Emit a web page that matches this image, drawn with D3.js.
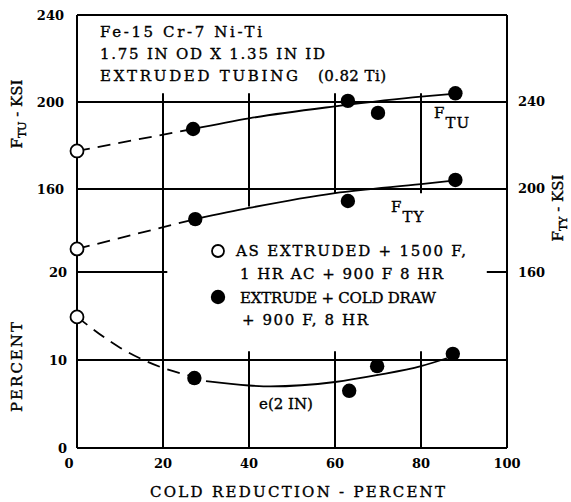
<!DOCTYPE html>
<meta charset="utf-8">
<style>
body { margin: 0; background: #fff; }
svg { font-family: "DejaVu Serif", serif; }
.grid { stroke: #000; stroke-width: 2px; fill: none; }
.curve { fill: none; stroke: #000; stroke-width: 1.8px; }
.dash { stroke-dasharray: 13,8; }
.tick { font-size: 13px; font-weight: bold; }
.lbl { font-size: 15px; stroke: #000; stroke-width: 0.35px; }
.open { fill: #fff; stroke: #000; stroke-width: 1.8px; }
.filled { fill: #000; }
</style>
<svg width="571" height="502"></svg>
<script src="https://d3js.org/d3.v7.min.js"></script>
<script>
// tick labels
var xTicks = [0, 20, 40, 60, 80, 100],
    ftuTicks = [160, 200, 240],
    ftyTicks = [160, 200, 240],
    pctTicks = [0, 10, 20];

// as extruded + 1500 F (open points, 0 % cold reduction)
var openCR = [0],
    openFTU = [177.5],
    openFTY = [171],
    openElong = [14.9];

// extrude + cold draw (filled points)
var ftuCR = [27, 63, 70, 88],
    ftuVal = [187.6, 200.5, 195, 204];
var ftyCR = [27.5, 63, 88],
    ftyVal = [185.2, 193.8, 203.7];
var elongCR = [27.3, 63.3, 69.8, 87.4],
    elongVal = [7.95, 6.5, 9.3, 10.7];

// faired curves (dashed part, then solid part)
var ftuDashCR = [0, 27], ftuDash = [177.5, 187.6];
var ftuLineCR = [27, 40, 60, 80, 88], ftuLine = [187.6, 192.5, 198, 202.5, 203.8];
var ftyDashCR = [0, 27.5], ftyDash = [171, 185.2];
var ftyLineCR = [27.5, 40, 60, 80, 88], ftyLine = [185.2, 190.5, 197.6, 201.8, 203.5];
var elDashCR = [0, 10, 20, 27.3], elDash = [14.9, 11.4, 9.1, 8.1];
var elLineCR = [30, 40, 45, 60, 70, 80, 86], elLine = [7.6, 7.1, 7.0, 7.5, 8.3, 9.3, 10.2];

var titleLines = ["Fe-15 Cr-7 Ni-Ti", "1.75 IN OD X 1.35 IN ID", "EXTRUDED TUBING"];
var legendLines = ["AS EXTRUDED + 1500 F,", "1 HR AC + 900 F 8 HR", "EXTRUDE + COLD DRAW", "+ 900 F, 8 HR"];

var svg = d3.select("svg");
var x = d3.scaleLinear().domain([0, 100]).range([77, 507]),
    yU = d3.scaleLinear().domain([160, 240]).range([189, 15]),
    yY = d3.scaleLinear().domain([160, 200, 240]).range([272, 188, 101]),
    yP = d3.scaleLinear().domain([0, 20]).range([448, 272]);

var g = svg.append("g");

// frame and grid
function hline(sc, v, a, b) {
  g.append("line").attr("class", "grid")
    .attr("x1", x(a)).attr("x2", x(b)).attr("y1", sc(v)).attr("y2", sc(v));
}
function vline(v, y1, y2) {
  g.append("line").attr("class", "grid")
    .attr("x1", x(v)).attr("x2", x(v)).attr("y1", y1).attr("y2", y2);
}
hline(yU, 240, 0, 100);
hline(yU, 200, 0, 100);
hline(yU, 160, 0, 100);
hline(yP, 20, 0, 21);
hline(yP, 10, 0, 100);
hline(yP, 0, 0, 100);
hline(yY, 160, 95.3, 100);
vline(0, yU(240), yP(0));
vline(100, yU(240), yP(0));
vline(20, yU(204), yP(0));
vline(40, yU(204), yU(152));
[60, 80].forEach(function(v) { vline(v, yU(204), yU(158)); });
[40, 60, 80].forEach(function(v) { vline(v, yP(11), yP(0)); });

// tick labels
g.selectAll(".xt").data(xTicks).enter().append("text")
    .attr("class", "tick").attr("text-anchor", "middle")
    .attr("x", function(d) { return x(d) - (d === 0 ? 8 : 0); }).attr("y", 468)
    .text(function(d) { return d; });
g.selectAll(".yu").data(ftuTicks).enter().append("text")
    .attr("class", "tick").attr("text-anchor", "end")
    .attr("x", 64).attr("y", function(d) { return yU(d) + 5; })
    .text(function(d) { return d; });
g.selectAll(".yp").data(pctTicks).enter().append("text")
    .attr("class", "tick").attr("text-anchor", "end")
    .attr("x", 67).attr("y", function(d) { return yP(d) + 5; })
    .text(function(d) { return d; });
g.selectAll(".yy").data(ftyTicks).enter().append("text")
    .attr("class", "tick").attr("text-anchor", "start")
    .attr("x", 518).attr("y", function(d) { return yY(d) + 5; })
    .text(function(d) { return d; });

// axis titles
function subTitle(tx, ty, main, sub, rest) {
  var t = g.append("text").attr("class", "lbl").attr("text-anchor", "middle")
    .attr("font-size", "14px")
    .attr("transform", "translate(" + tx + "," + ty + ") rotate(-90)");
  t.append("tspan").text(main);
  t.append("tspan").attr("font-size", "11px").attr("dy", 4).text(sub);
  t.append("tspan").attr("dy", -4).text(rest);
}
subTitle(22, 114, "F", "TU", " - KSI");
subTitle(563, 208, "F", "TY", " - KSI");
g.append("text").attr("class", "lbl").attr("text-anchor", "middle")
  .attr("transform", "translate(22,367) rotate(-90)")
  .attr("textLength", 90).attr("lengthAdjust", "spacing").text("PERCENT");
g.append("text").attr("class", "lbl").attr("x", 150).attr("y", 497)
  .attr("textLength", 295).attr("lengthAdjust", "spacing")
  .text("COLD REDUCTION - PERCENT");

// title block
g.selectAll(".ttl").data(titleLines).enter().append("text")
    .attr("class", "lbl").attr("x", 100)
    .attr("y", function(d, i) { return 37 + i * 22; })
    .attr("textLength", function(d, i) { return [162, 225, 198][i]; })
    .attr("lengthAdjust", "spacing")
    .text(function(d) { return d; });
g.append("text").attr("class", "lbl").attr("x", 318).attr("y", 81)
  .attr("textLength", 68).attr("lengthAdjust", "spacing").text("(0.82 Ti)");

// curves
var line = d3.line().curve(d3.curveMonotoneX);
function curve(cr, vals, sc, dashed) {
  g.append("path").attr("class", "curve" + (dashed ? " dash" : ""))
    .attr("d", line(cr.map(function(c, i) { return [x(c), sc(vals[i])]; })));
}
curve(ftuDashCR, ftuDash, yU, true);
curve(ftuLineCR, ftuLine, yU, false);
curve(ftyDashCR, ftyDash, yY, true);
curve(ftyLineCR, ftyLine, yY, false);
curve(elDashCR, elDash, yP, true);
curve(elLineCR, elLine, yP, false);

// points
function pts(cr, vals, sc, cls, r) {
  g.selectAll(null).data(cr).enter().append("circle")
    .attr("class", cls).attr("r", r)
    .attr("cx", function(d) { return x(d); })
    .attr("cy", function(d, i) { return sc(vals[i]); });
}
pts(openCR, openFTU, yU, "open", 6.5);
pts(openCR, openFTY, yY, "open", 6.5);
pts(openCR, openElong, yP, "open", 6.5);
pts(ftuCR, ftuVal, yU, "filled", 7.2);
pts(ftyCR, ftyVal, yY, "filled", 7.2);
pts(elongCR, elongVal, yP, "filled", 7.2);

// curve labels
function sublabel(tx, ty, main, sub) {
  var t = g.append("text").attr("class", "lbl").attr("x", tx).attr("y", ty);
  t.append("tspan").text(main);
  t.append("tspan").attr("dy", 10).attr("dx", 1).attr("letter-spacing", 1).text(sub);
}
sublabel(434, 118, "F", "TU");
sublabel(391, 212, "F", "TY");
g.append("text").attr("class", "lbl").attr("x", 259).attr("y", 409)
  .attr("font-size", "13px").text("e(2 IN)");

// legend
g.append("circle").attr("class", "open").attr("r", 6).attr("cx", 218).attr("cy", 251);
g.append("circle").attr("class", "filled").attr("r", 7.2).attr("cx", 218).attr("cy", 297);
g.selectAll(".leg").data(legendLines).enter().append("text")
    .attr("class", "lbl")
    .attr("x", function(d, i) { return [236, 240, 240, 242][i]; })
    .attr("y", function(d, i) { return [256, 279, 303, 325][i]; })
    .attr("textLength", function(d, i) { return [230, 203, 196, 126][i]; })
    .attr("lengthAdjust", "spacing")
    .text(function(d) { return d; });
</script>
